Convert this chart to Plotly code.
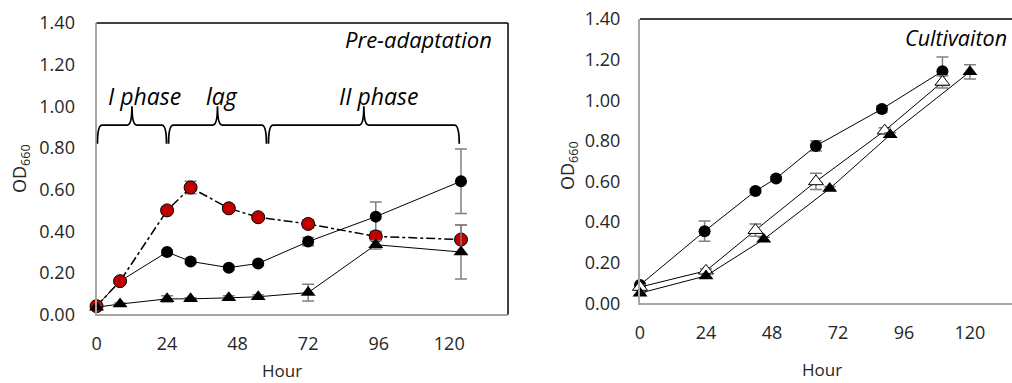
import plotly.graph_objects as go

# ---------------- data: left panel (Pre-adaptation) ----------------
pre_hours = [0, 8, 24, 32, 45, 55, 72, 95, 124]
pre_circle = [0.04, 0.16, 0.30, 0.255, 0.225, 0.245, 0.35, 0.47, 0.64]
pre_circle_err = [0.005, 0.01, 0.01, 0.01, 0.01, 0.01, 0.02, 0.07, 0.155]
pre_red = [0.04, 0.16, 0.50, 0.61, 0.51, 0.467, 0.435, 0.375, 0.36]
pre_red_err = [0.005, 0.01, 0.015, 0.03, 0.015, 0.015, 0.02, 0.02, 0.07]
pre_tri = [0.035, 0.05, 0.075, 0.075, 0.08, 0.085, 0.105, 0.335, 0.30]
pre_tri_err = [0.005, 0.005, 0.015, 0.005, 0.01, 0.01, 0.04, 0.02, 0.13]

# phase braces (start hour, end hour) and label positions
phase_names = ["I phase", "lag", "II phase"]
phase_start = [0.3, 24.5, 58.5]
phase_end = [23.8, 57.8, 123.4]
phase_label_x = [16.3, 42.7, 95.8]

# ---------------- data: right panel (Cultivation) ----------------
cul_circle_h = [0, 23.5, 42, 49.5, 64, 88, 110]
cul_circle = [0.09, 0.355, 0.553, 0.615, 0.775, 0.957, 1.143]
cul_circle_err = [0.01, 0.05, 0.01, 0.01, 0.025, 0.015, 0.07]
cul_open_h = [0, 24, 42, 64, 89, 110]
cul_open = [0.08, 0.16, 0.36, 0.60, 0.85, 1.09]
cul_open_err = [0.01, 0.01, 0.03, 0.04, 0.015, 0.03]
cul_tri_h = [0, 24, 45, 69, 91, 120]
cul_tri = [0.05, 0.135, 0.315, 0.565, 0.83, 1.14]
cul_tri_err = [0.005, 0.01, 0.01, 0.01, 0.01, 0.035]

x_ticks = [0, 24, 48, 72, 96, 120]
y_ticks = [0, 0.2, 0.4, 0.6, 0.8, 1.0, 1.2, 1.4]

FONT = "Open Sans"
TXT = "#262626"
ERR = "#808080"

fig = go.Figure()


def err(vals):
    return dict(type="data", array=vals, color=ERR, thickness=1.5, width=6)


# left panel
fig.add_trace(go.Scatter(x=pre_hours, y=pre_circle, error_y=err(pre_circle_err),
                         mode="lines+markers", line=dict(color="black", width=1),
                         marker=dict(symbol="circle", size=12, color="black"),
                         xaxis="x", yaxis="y", cliponaxis=False))
fig.add_trace(go.Scatter(x=pre_hours, y=pre_red, error_y=err(pre_red_err),
                         mode="lines+markers", line=dict(color="black", width=1.5, dash="dashdot"),
                         marker=dict(symbol="circle", size=13, color="#c00000",
                                     line=dict(color="black", width=1)),
                         xaxis="x", yaxis="y", cliponaxis=False))
fig.add_trace(go.Scatter(x=pre_hours, y=pre_tri, error_y=err(pre_tri_err),
                         mode="lines+markers", line=dict(color="black", width=1),
                         marker=dict(symbol="triangle-up", size=13, color="black"),
                         xaxis="x", yaxis="y", cliponaxis=False))

# right panel
fig.add_trace(go.Scatter(x=cul_circle_h, y=cul_circle, error_y=err(cul_circle_err),
                         mode="lines+markers", line=dict(color="black", width=1),
                         marker=dict(symbol="circle", size=12, color="black"),
                         xaxis="x2", yaxis="y2", cliponaxis=False))
fig.add_trace(go.Scatter(x=cul_open_h, y=cul_open, error_y=err(cul_open_err),
                         mode="lines+markers", line=dict(color="black", width=1),
                         marker=dict(symbol="triangle-up", size=13, color="white",
                                     line=dict(color="black", width=1)),
                         xaxis="x2", yaxis="y2", cliponaxis=False))
fig.add_trace(go.Scatter(x=cul_tri_h, y=cul_tri, error_y=err(cul_tri_err),
                         mode="lines+markers", line=dict(color="black", width=1),
                         marker=dict(symbol="triangle-up", size=13, color="black"),
                         xaxis="x2", yaxis="y2", cliponaxis=False))

axis_common = dict(showgrid=False, zeroline=False, showline=True, linecolor="#a6a6a6",
                   linewidth=2, ticks="", automargin=False,
                   tickfont=dict(family=FONT, size=18, color=TXT))

fig.update_layout(
    width=1012, height=383, margin=dict(l=0, r=0, t=0, b=0, pad=0),
    paper_bgcolor="white", plot_bgcolor="white", showlegend=False,
    xaxis=dict(domain=[0.0954, 0.502], range=[0, 140], tickvals=x_ticks,
               ticklabelstandoff=12, anchor="y", **axis_common),
    yaxis=dict(domain=[0.1789, 0.9399], range=[0, 1.4], tickvals=y_ticks,
               tickformat=".2f", ticklabelstandoff=16, anchor="x", **axis_common),
    xaxis2=dict(domain=[0.6324, 1.0], range=[0, 135.3], tickvals=x_ticks,
                ticklabelstandoff=12, anchor="y2", **axis_common),
    yaxis2=dict(domain=[0.2081, 0.9504], range=[0, 1.4], tickvals=y_ticks,
                tickformat=".2f", ticklabelstandoff=14, anchor="x2", **axis_common),
)

# black frame lines (top/right)
for xr, yr, right in (("x domain", "y domain", True), ("x2 domain", "y2 domain", False)):
    fig.add_shape(type="line", xref=xr, yref=yr, x0=0, x1=1, y0=1, y1=1,
                  line=dict(color="black", width=1.5))
    if right:
        fig.add_shape(type="line", xref=xr, yref=yr, x0=1, x1=1, y0=0, y1=1,
                      line=dict(color="black", width=1.5))

# braces
yb, yh, yt, r = 0.82, 0.91, 1.0, 1.6
for x0, x1 in zip(phase_start, phase_end):
    xm = (x0 + x1) / 2
    path = (f"M {x0},{yb} Q {x0},{yh} {x0 + r},{yh} L {xm - r},{yh} "
            f"Q {xm},{yh} {xm},{yt} Q {xm},{yh} {xm + r},{yh} "
            f"L {x1 - r},{yh} Q {x1},{yh} {x1},{yb}")
    fig.add_shape(type="path", path=path, xref="x", yref="y",
                  line=dict(color="black", width=1.8))

for name, lx in zip(phase_names, phase_label_x):
    fig.add_annotation(x=lx, y=1.05, xref="x", yref="y", text=f"<i>{name}</i>",
                       xanchor="center", yanchor="middle", showarrow=False,
                       font=dict(family=FONT, size=23, color="black"))


def paper_text(px, py, text, size, xanchor="center", angle=0, color=TXT):
    fig.add_annotation(x=px / 1012, y=1 - py / 383, xref="paper", yref="paper",
                       xanchor=xanchor, yanchor="middle", text=text, textangle=angle,
                       showarrow=False, font=dict(family=FONT, size=size, color=color))


paper_text(494, 39, "<i>Pre-adaptation</i>", 22, xanchor="right", color="black")
paper_text(1009, 37, "<i>Cultivaiton</i>", 21.5, xanchor="right", color="black")

# axis titles
paper_text(20, 169, "OD<sub>660</sub>", 18, angle=-90)
paper_text(569, 166, "OD<sub>660</sub>", 18, angle=-90)
paper_text(282, 370, "Hour", 17)
paper_text(822, 369, "Hour", 17)

fig.write_html("out.html")
